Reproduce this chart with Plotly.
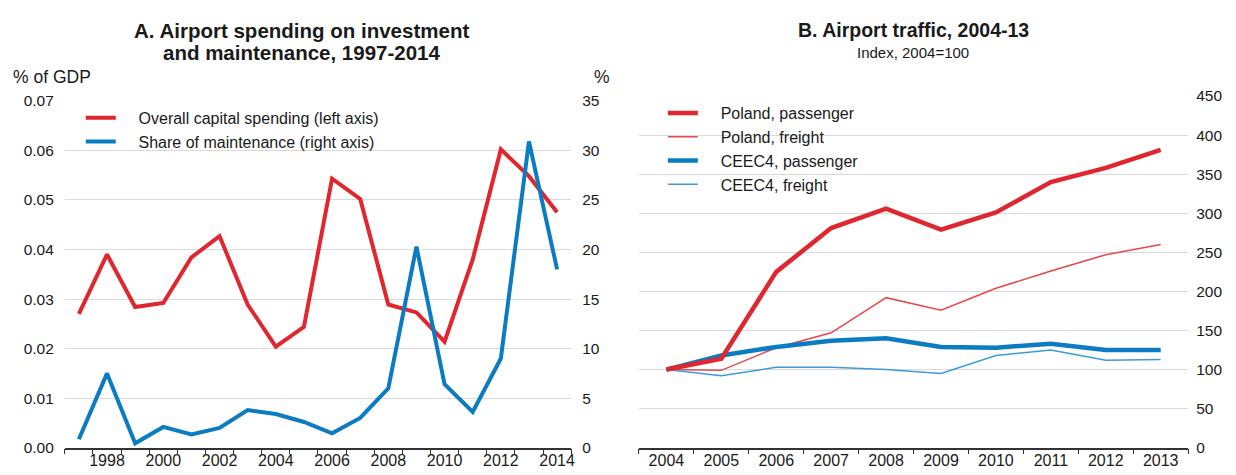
import plotly.graph_objects as go

# ---- Data ----
years_a = list(range(1997, 2015))
capital_spending = [0.0270, 0.0390, 0.0284, 0.0292, 0.0384, 0.0427, 0.0289, 0.0204, 0.0244,
                    0.0543, 0.0502, 0.0289, 0.0273, 0.0214, 0.0380, 0.0602, 0.0548, 0.0475]
maintenance_share = [0.85, 7.5, 0.45, 2.1, 1.35, 2.0, 3.8, 3.4, 2.6,
                     1.45, 3.0, 6.0, 20.3, 6.4, 3.6, 9.0, 30.9, 18.0]
ticks_a = list(range(1998, 2015, 2))

years_b = list(range(2004, 2014))
poland_passenger = [100, 114, 225, 281, 306, 279, 301, 340, 358, 381]
poland_freight = [100, 99, 128, 147, 192, 176, 204, 226, 247, 260]
ceec4_passenger = [100, 118, 129, 137, 140, 129, 128, 133, 125, 125]
ceec4_freight = [100, 92, 103, 103, 100, 95, 118, 125, 112, 113]

RED = "#E0262E"
BLUE = "#0B7BC2"
RED_LIGHT = "#E8474D"
BLUE_LIGHT = "#3D9BD9"
GRID = "#DADADA"
TXT = "#1a1a1a"
FONT = "Liberation Sans, Arial, sans-serif"

# page body has an 8px margin: figure is sized so it fits the 1236x475 window
OFF = 8
W, H = 1236 - OFF, 475 - OFF


def px(x):
    """window x pixel -> paper fraction"""
    return (x - OFF) / W


def py(y):
    """window y pixel -> paper fraction"""
    return 1 - (y - OFF) / H


GAP = "\u00a0\u00a0\u00a0\u00a0"

fig = go.Figure()

# Panel A
fig.add_trace(go.Scatter(x=years_a, y=capital_spending, mode="lines",
                         name=GAP + "Overall capital spending (left axis)",
                         line=dict(color=RED, width=4), xaxis="x", yaxis="y",
                         legend="legend", legendrank=1))
fig.add_trace(go.Scatter(x=years_a, y=maintenance_share, mode="lines",
                         name=GAP + "Share of maintenance (right axis)",
                         line=dict(color=BLUE, width=4), xaxis="x", yaxis="y2",
                         legend="legend", legendrank=2))

# Panel B
fig.add_trace(go.Scatter(x=years_b, y=poland_freight, mode="lines", name=GAP + "Poland, freight",
                         line=dict(color=RED_LIGHT, width=1.5), xaxis="x2", yaxis="y3",
                         legend="legend2", legendrank=2))
fig.add_trace(go.Scatter(x=years_b, y=ceec4_freight, mode="lines", name=GAP + "CEEC4, freight",
                         line=dict(color=BLUE_LIGHT, width=1.5), xaxis="x2", yaxis="y3",
                         legend="legend2", legendrank=4))
fig.add_trace(go.Scatter(x=years_b, y=ceec4_passenger, mode="lines", name=GAP + "CEEC4, passenger",
                         line=dict(color=BLUE, width=4.5), xaxis="x2", yaxis="y3",
                         legend="legend2", legendrank=3))
fig.add_trace(go.Scatter(x=years_b, y=poland_passenger, mode="lines", name=GAP + "Poland, passenger",
                         line=dict(color=RED, width=4.5), xaxis="x2", yaxis="y3",
                         legend="legend2", legendrank=1))

ytickfont = dict(family=FONT, size=15.5, color=TXT)
xtickfont = dict(family=FONT, size=16, color=TXT)
legfont = dict(family=FONT, size=16, color=TXT)

minor_a = [y - 0.5 for y in years_a] + [years_a[-1] + 0.5]
minor_b = [y - 0.5 for y in years_b] + [years_b[-1] + 0.5]

fig.update_layout(
    width=W, height=H,
    margin=dict(l=0, r=0, t=0, b=0),
    paper_bgcolor="white", plot_bgcolor="white",
    font=dict(family=FONT, size=15, color=TXT),
    xaxis=dict(domain=[px(65), px(573)], range=[1996.5, 2014.5],
               tickvals=ticks_a, ticktext=[str(t) for t in ticks_a],
               ticks="", showgrid=False, zeroline=False,
               showline=True, linecolor="#333", linewidth=1.5,
               tickfont=xtickfont, anchor="y", ticklabelstandoff=-3,
               minor=dict(tickvals=minor_a, ticks="outside", ticklen=5,
                          tickcolor="#333", tickwidth=1, showgrid=False)),
    yaxis=dict(domain=[py(455), py(95)], range=[0, 0.07], dtick=0.01,
               tickformat=".2f", showgrid=True, gridcolor=GRID, gridwidth=1,
               zeroline=False, showline=False, ticks="", tickfont=ytickfont,
               ticklabelstandoff=10, anchor="x"),
    yaxis2=dict(overlaying="y", side="right", range=[0, 35], dtick=5,
                showgrid=False, zeroline=False, showline=False, ticks="",
                tickfont=ytickfont, ticklabelstandoff=10, anchor="x"),
    xaxis2=dict(domain=[px(641), px(1192)], range=[2003.5, 2013.5],
                tickvals=years_b, ticktext=[str(t) for t in years_b],
                ticks="", showgrid=False, zeroline=False,
                showline=True, linecolor="#333", linewidth=1.5,
                tickfont=xtickfont, anchor="y3", ticklabelstandoff=-3,
                minor=dict(tickvals=minor_b, ticks="outside", ticklen=5,
                           tickcolor="#333", tickwidth=1, showgrid=False)),
    yaxis3=dict(domain=[py(455), py(90)], range=[0, 450], dtick=50,
                side="right", showgrid=True, gridcolor=GRID, gridwidth=1,
                zeroline=False, showline=False, ticks="", tickfont=ytickfont,
                ticklabelstandoff=7, anchor="x2"),
    legend=dict(x=px(81), y=py(95), xanchor="left", yanchor="top",
                bgcolor="rgba(0,0,0,0)", font=legfont, tracegroupgap=0),
    legend2=dict(x=px(665), y=py(90), xanchor="left", yanchor="top",
                 bgcolor="rgba(0,0,0,0)", font=legfont, tracegroupgap=0),
    showlegend=True,
)

annotations = [
    dict(text="<b>A. Airport spending on investment</b>",
         x=px(302), y=py(22), xref="paper", yref="paper", xanchor="center", yanchor="middle",
         showarrow=False, font=dict(family=FONT, size=20.5, color=TXT)),
    dict(text="<b>and maintenance, 1997-2014</b>",
         x=px(302), y=py(45), xref="paper", yref="paper", xanchor="center", yanchor="middle",
         showarrow=False, font=dict(family=FONT, size=20.5, color=TXT)),
    dict(text="<b>B. Airport traffic, 2004-13</b>",
         x=px(916), y=py(22), xref="paper", yref="paper", xanchor="center", yanchor="middle",
         showarrow=False, font=dict(family=FONT, size=19.5, color=TXT)),
    dict(text="Index, 2004=100",
         x=px(916), y=py(45), xref="paper", yref="paper", xanchor="center", yanchor="middle",
         showarrow=False, font=dict(family=FONT, size=15, color=TXT)),
    dict(text="% of GDP", x=px(11), y=py(70), xref="paper", yref="paper",
         xanchor="left", yanchor="middle", showarrow=False,
         font=dict(family=FONT, size=17.5, color=TXT)),
    dict(text="%", x=px(594), y=py(70), xref="paper", yref="paper",
         xanchor="left", yanchor="middle", showarrow=False,
         font=dict(family=FONT, size=17.5, color=TXT)),
]
fig.update_layout(annotations=annotations)

fig.write_html("out.html")
